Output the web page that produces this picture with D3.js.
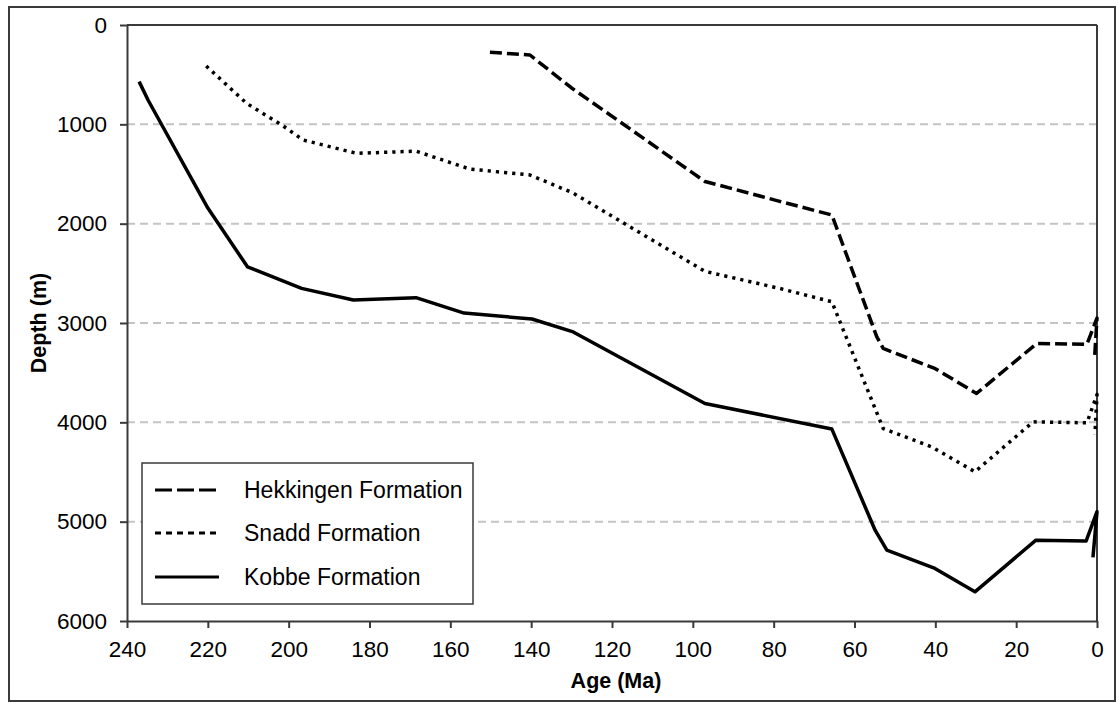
<!DOCTYPE html>
<html><head><meta charset="utf-8">
<script src="https://cdn.jsdelivr.net/npm/d3@7/dist/d3.min.js"></script>
<style>
html,body{margin:0;padding:0;background:#fff;}
svg text{font-family:"Liberation Sans",Arial,sans-serif;fill:#000;}
</style></head>
<body><svg id="chart" width="1119" height="704"></svg>
<script>
// ---- data ----
const xTicks = [240, 220, 200, 180, 160, 140, 120, 100, 80, 60, 40, 20, 0];
const yTicks = [0, 1000, 2000, 3000, 4000, 5000, 6000];
const seriesNames = ["Hekkingen Formation", "Snadd Formation", "Kobbe Formation"];

const hekkingenAge   = [150.2, 140.3, 130, 97, 78.5, 65.6, 54.5, 52.9, 40, 29.8, 14.9, 2.5, 0, 0.6];
const hekkingenDepth = [275, 302, 634, 1575, 1775, 1913, 3137, 3256, 3460, 3709, 3206, 3215, 2950, 3350];

const snaddAge   = [220.4, 210.4, 201.7, 196.4, 183.2, 168.5, 155.2, 140.3, 129.7, 97, 78.5, 65.6, 52.9, 40.9, 30.2, 15.8, 2.5, 0, 0.5];
const snaddDepth = [413, 789, 1007, 1158, 1292, 1270, 1450, 1510, 1690, 2480, 2652, 2786, 4062, 4247, 4498, 3995, 4005, 3720, 4120];

const kobbeAge   = [237, 234.8, 220, 210.2, 196.8, 184, 168.5, 156.6, 139.8, 129.6, 97, 65.6, 54.9, 52.0, 40.1, 30.2, 15.1, 2.7, 0, 1];
const kobbeDepth = [570, 755, 1843, 2434, 2651, 2769, 2745, 2900, 2960, 3090, 3810, 4068, 5086, 5287, 5471, 5706, 5186, 5195, 4900, 5360];

// ---- chart ----
const svg = d3.select("#chart");
const L = 127, R = 1097, T = 25, B = 621;
const x = d3.scaleLinear().domain([240, 0]).range([L, R]);
const y = d3.scaleLinear().domain([0, 6000]).range([T, B]);
const axisColor = "#3a3a3a";

// outer border
svg.append("rect").attr("x", 9).attr("y", 7).attr("width", 1106).attr("height", 694)
  .attr("fill", "#fff").attr("stroke", axisColor).attr("stroke-width", 2);

// gridlines
svg.append("g").selectAll("line").data(yTicks.filter(d => d > 0 && d < 6000)).join("line")
  .attr("x1", L).attr("x2", R).attr("y1", d => y(d)).attr("y2", d => y(d))
  .attr("stroke", "#c4c4c4").attr("stroke-width", 2).attr("stroke-dasharray", "8,5");

// top and right frame lines
svg.append("line").attr("x1", L).attr("x2", R).attr("y1", T).attr("y2", T)
  .attr("stroke", axisColor).attr("stroke-width", 2);
svg.append("line").attr("x1", R).attr("x2", R).attr("y1", T).attr("y2", B)
  .attr("stroke", axisColor).attr("stroke-width", 2);

// axes
const gx = svg.append("g").attr("transform", `translate(0,${B})`)
  .call(d3.axisBottom(x).tickValues(xTicks).tickFormat(d3.format("d")).tickSizeInner(7).tickSizeOuter(0).tickPadding(13));
const gy = svg.append("g").attr("transform", `translate(${L},0)`)
  .call(d3.axisLeft(y).tickValues(yTicks).tickFormat(d3.format("d")).tickSizeInner(7).tickSizeOuter(0).tickPadding(13));
[gx, gy].forEach(g => {
  g.select(".domain").attr("stroke", axisColor).attr("stroke-width", 2);
  g.selectAll(".tick line").attr("stroke", axisColor).attr("stroke-width", 2);
  g.selectAll(".tick text").attr("font-size", 22.5).attr("font-family", "Liberation Sans, Arial, sans-serif").attr("fill", "#000");
});

// axis titles
svg.append("text").attr("x", 616).attr("y", 688).attr("text-anchor", "middle")
  .attr("font-size", 21.5).attr("font-weight", "bold").text("Age (Ma)");
svg.append("text").attr("transform", `translate(46,${(T + B) / 2}) rotate(-90)`).attr("text-anchor", "middle")
  .attr("font-size", 21.5).attr("font-weight", "bold").text("Depth (m)");

// series
const styles = [
  {dash: "12,5", cap: "butt"},
  {dash: "3.2,5", cap: "butt"},
  {dash: null, cap: "butt"}
];
const series = [
  hekkingenAge.map((a, i) => [a, hekkingenDepth[i]]),
  snaddAge.map((a, i) => [a, snaddDepth[i]]),
  kobbeAge.map((a, i) => [a, kobbeDepth[i]])
];
const line = d3.line().x(d => x(d[0])).y(d => y(d[1]));
series.forEach((s, i) => {
  svg.append("path").attr("d", line(s)).attr("fill", "none").attr("stroke", "#000")
    .attr("stroke-width", 3.5).attr("stroke-linejoin", "round").attr("stroke-linecap", styles[i].cap)
    .attr("stroke-dasharray", styles[i].dash);
});

// legend
const lg = svg.append("g");
lg.append("rect").attr("x", 142).attr("y", 463).attr("width", 331).attr("height", 141)
  .attr("fill", "#fff").attr("stroke", axisColor).attr("stroke-width", 1.5);
const rowY = [490, 533, 577];
seriesNames.forEach((name, i) => {
  lg.append("line").attr("x1", 155).attr("x2", 219).attr("y1", rowY[i]).attr("y2", rowY[i])
    .attr("stroke", "#000").attr("stroke-width", 3).attr("stroke-dasharray", i === 0 ? "17,5" : i === 1 ? "6,5" : null);
  lg.append("text").attr("x", 244).attr("y", rowY[i]).attr("dy", "0.36em")
    .attr("font-size", 23).text(name);
});
</script></body></html>
